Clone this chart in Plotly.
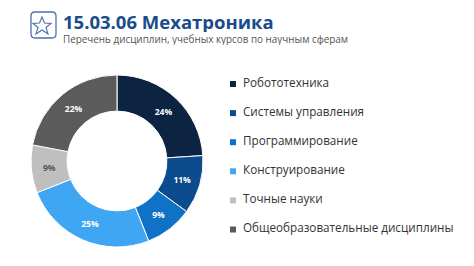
import plotly.graph_objects as go

categories = ["Робототехника", "Системы управления", "Программирование",
              "Конструирование", "Точные науки", "Общеобразовательные дисциплины"]
values = [24, 11, 9, 25, 9, 22]
colors = ["#0c2342", "#0b4b8e", "#0f72c6", "#3ea6f2", "#bfbfbf", "#5b5b5b"]
text_colors = ["white", "white", "white", "white", "#555555", "white"]

W, H = 474, 266
cx, cy, r = 117, 161, 86

fig = go.Figure()
fig.add_trace(go.Pie(
    labels=categories, values=values, hole=0.58, sort=False, direction="clockwise",
    rotation=0, marker=dict(colors=colors, line=dict(color="white", width=1)),
    texttemplate="%{value}%", textposition="inside", insidetextorientation="horizontal",
    textfont=dict(family="Open Sans", size=8.5, color=text_colors, weight="bold"),
    showlegend=False, hoverinfo="label+value",
    domain=dict(x=[(cx - r) / W, (cx + r) / W], y=[(H - cy - r) / H, (H - cy + r) / H]),
))

# manual legend (squares + labels)
leg_x0, leg_y0, leg_dy = 233, 81.5, 29.1
shapes = []
annotations = []
for i, (lab, col) in enumerate(zip(categories, colors)):
    yc = leg_y0 + i * leg_dy
    ym = yc + 2.5
    shapes.append(dict(type="rect", xref="paper", yref="paper",
                       x0=(leg_x0 - 3) / W, x1=(leg_x0 + 3) / W,
                       y0=1 - (ym + 3) / H, y1=1 - (ym - 3) / H,
                       fillcolor=col, line=dict(width=0)))
    annotations.append(dict(text=lab, x=241 / W, y=1 - yc / H, xref="paper", yref="paper",
                            xanchor="left", yanchor="middle", showarrow=False,
                            font=dict(family="Open Sans", size=11.7, color="#333333")))

annotations += [
    dict(text="<b>15.03.06 Мехатроника</b>", x=61 / W, y=1 - 21 / H, xref="paper", yref="paper",
         xanchor="left", yanchor="middle", showarrow=False, height=22,
         font=dict(family="Open Sans", size=18.5, color="#1a4b8c")),
    dict(text="Перечень дисциплин, учебных курсов по научным сферам", x=61 / W, y=1 - 38.5 / H,
         xref="paper", yref="paper", xanchor="left", yanchor="middle", showarrow=False, height=12,
         font=dict(family="Open Sans", size=9.9, color="#555555")),
]

shapes += [
    dict(type="path", xref="paper", yref="paper",
         path=f"M {31/W},{1-16/H} Q {31/W},{1-12/H} {35/W},{1-12/H} L {52/W},{1-12/H} "
              f"Q {56/W},{1-12/H} {56/W},{1-16/H} L {56/W},{1-34/H} Q {56/W},{1-38/H} {52/W},{1-38/H} "
              f"L {35/W},{1-38/H} Q {31/W},{1-38/H} {31/W},{1-34/H} Z",
         line=dict(color="#4a72ad", width=1.3)),
    dict(type="path", xref="paper", yref="paper",
         path=f"M {42/W},{1-17/H} L {44.5/W},{1-23/H} L {51/W},{1-23.5/H} L {46/W},{1-27.5/H} "
              f"L {48/W},{1-34/H} L {42/W},{1-30/H} L {36/W},{1-34/H} L {38/W},{1-27.5/H} "
              f"L {33/W},{1-23.5/H} L {39.5/W},{1-23/H} Z",
         line=dict(color="#4a72ad", width=1.1)),
]

fig.update_layout(
    width=W, height=H, margin=dict(l=0, r=0, t=0, b=0),
    paper_bgcolor="white", plot_bgcolor="white",
    showlegend=False, font=dict(family="Open Sans"),
    annotations=annotations, shapes=shapes,
)

fig.write_html("out.html")
